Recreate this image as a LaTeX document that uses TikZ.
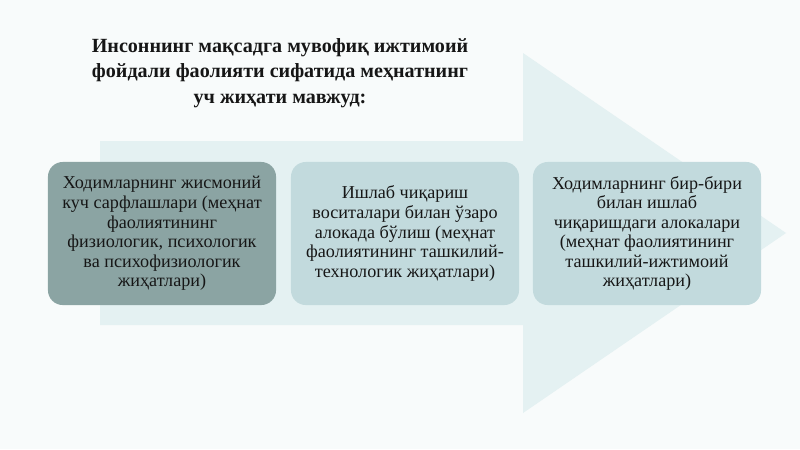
\documentclass[tikz,border=0pt]{standalone}
\usepackage{fontspec}
\setmainfont{Liberation Serif}
\usepackage{tikz}

\definecolor{pagebg}{HTML}{F8FBFB}
\definecolor{arrowbg}{HTML}{E4F1F2}
\definecolor{darkbox}{HTML}{8BA4A3}
\definecolor{lightbox}{HTML}{C2DADD}
\definecolor{inktext}{HTML}{161616}

\tikzset{
	aspectbox/.style={shape=rectangle,rounded corners=10.5pt,minimum width=5.7cm,minimum height=3.575cm,inner sep=0pt,align=center,text=inktext,font=\fontsize{12.9}{13.9}\selectfont},
	headtext/.style={align=center,text=inktext,font=\bfseries\fontsize{14.3}{18}\selectfont},
}

\begin{document}
\begin{tikzpicture}[x=0.025cm,y=-0.025cm]
	
	\useasboundingbox (0,0) rectangle (800,449);
	\fill[pagebg] (0,0) rectangle (800,449);
	\fill[arrowbg] (100,141) -- (523,141) -- (523,53) -- (786,233) -- (523,413) -- (523,325) -- (100,325) -- cycle;
	
	\node[headtext] (title) at (280,73) {Инсоннинг мақсадга мувофиқ ижтимоий\\фойдали фаолияти сифатида меҳнатнинг\\уч жиҳати мавжуд:};
	
	\node[aspectbox,fill=darkbox] (physical) at (162,233.5) {Ходимларнинг жисмоний\\куч сарфлашлари (меҳнат\\фаолиятининг\\физиологик, психологик\\ва психофизиологик\\жиҳатлари)};
	\node[aspectbox,fill=lightbox] (technical) at (405,233.5) {Ишлаб чиқариш\\воситалари билан ўзаро\\алокада бўлиш (меҳнат\\фаолиятининг ташкилий-\\технологик жиҳатлари)};
	\node[aspectbox,fill=lightbox] (social) at (647,233.5) {Ходимларнинг бир-бири\\билан ишлаб\\чиқаришдаги алокалари\\(меҳнат фаолиятининг\\ташкилий-ижтимоий\\жиҳатлари)};
	
\end{tikzpicture}
\end{document}
